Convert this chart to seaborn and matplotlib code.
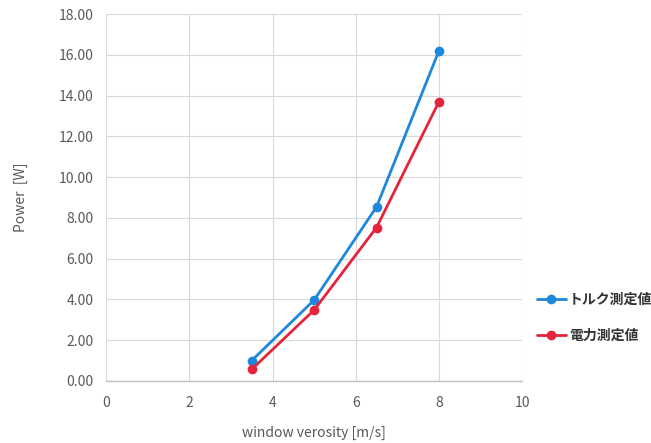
import matplotlib
matplotlib.use("Agg")
import matplotlib.pyplot as plt
import seaborn as sns
import pandas as pd

x_speed = [3.5, 5, 6.5, 8]
torque_power = [1.0, 3.97, 8.54, 16.2]
electric_power = [0.57, 3.48, 7.53, 13.7]
series_names = ["トルク測定値", "電力測定値"]
x_ticks = [0, 2, 4, 6, 8, 10]
y_ticks = [0, 2, 4, 6, 8, 10, 12, 14, 16, 18]

sns.set_theme(style="whitegrid")
plt.rcParams['font.family'] = ['Noto Sans CJK JP', 'DejaVu Sans']

df = pd.DataFrame({
    "x": x_speed * 2,
    "y": torque_power + electric_power,
    "series": [series_names[0]] * 4 + [series_names[1]] * 4,
})

fig = plt.figure(figsize=(6.51, 4.43), dpi=100)
ax = fig.add_axes([0.163, 0.14, 0.639, 0.828])
palette = {series_names[0]: "#1e88dc", series_names[1]: "#e5243b"}
sns.lineplot(data=df, x="x", y="y", hue="series", palette=palette, marker="o",
             markersize=7, markeredgewidth=0, linewidth=2, ax=ax, legend=True)

ax.set_xlim(0, 10)
ax.set_ylim(0, 18)
ax.set_xticks(x_ticks)
ax.set_yticks(y_ticks)
ax.set_yticklabels([f"{v:.2f}" for v in y_ticks])
ax.tick_params(axis="y", colors="#595959", labelsize=10, length=0, pad=9)
ax.tick_params(axis="x", colors="#595959", labelsize=10, length=0, pad=11)
for lbl in ax.get_xticklabels() + ax.get_yticklabels():
    lbl.set_color("#595959")
ax.grid(True, color="#d9d9d9", linewidth=0.8)
for s in ["top", "right", "left"]:
    ax.spines[s].set_visible(False)
ax.spines["bottom"].set_color("#bfbfbf")
ax.spines["bottom"].set_linewidth(1)

ax.set_xlabel("window verosity [m/s]", color="#595959", fontsize=10, labelpad=11)
ax.set_ylabel("Power  [W]", color="#595959", fontsize=10, labelpad=22)

leg = ax.legend(title=None, loc="center left", bbox_to_anchor=(1.022, 0.172),
                borderaxespad=0, frameon=False, fontsize=10, handlelength=2.1,
                labelspacing=1.6, handletextpad=0.2)
for t in leg.get_texts():
    t.set_color("#333333")
    t.set_fontweight("bold")

fig.savefig("out.png", dpi=100, facecolor="white")
